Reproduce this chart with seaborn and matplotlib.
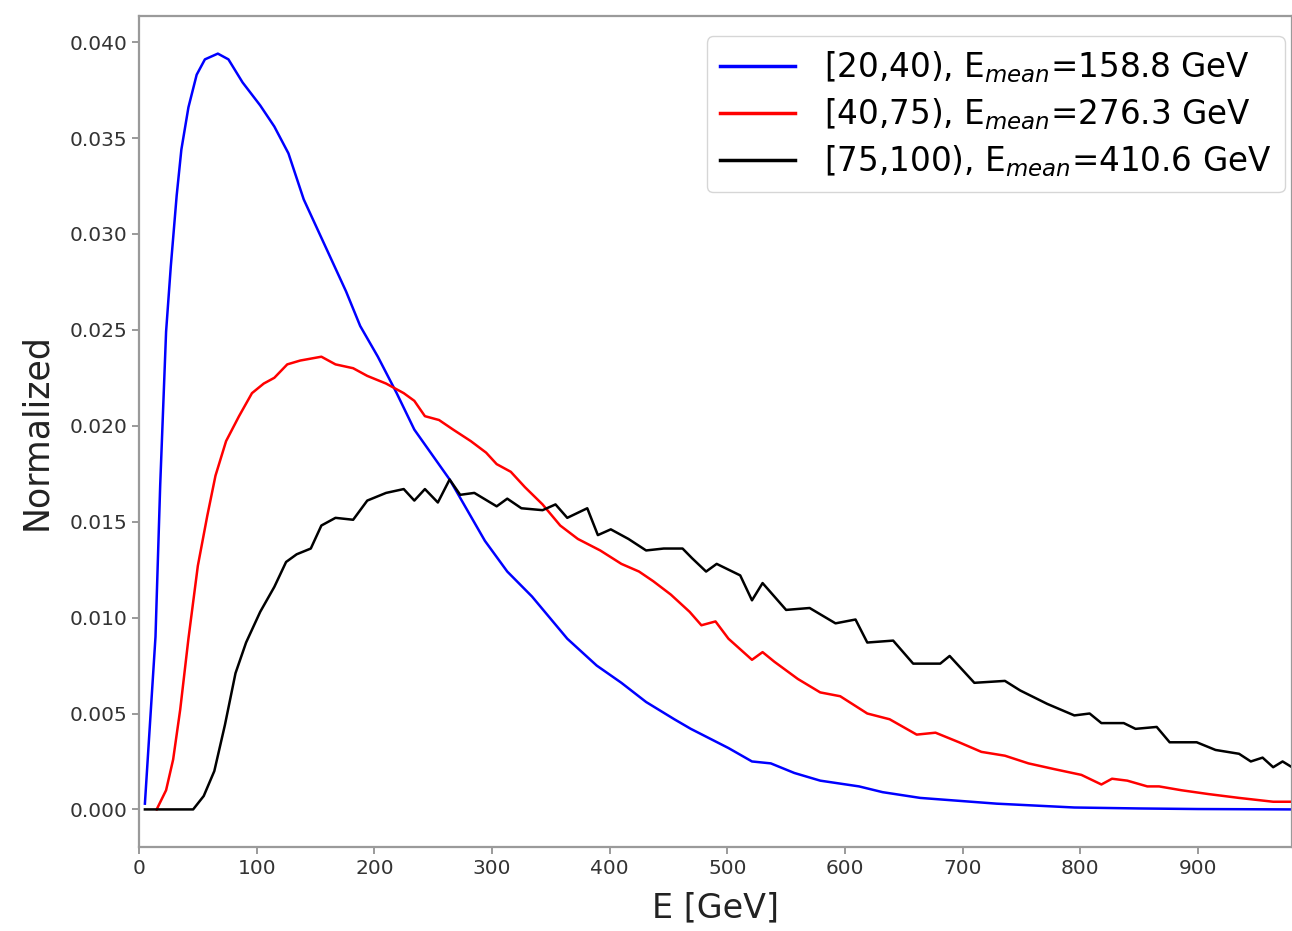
import numpy as np
import pandas as pd
import matplotlib
matplotlib.use("Agg")
import matplotlib.pyplot as plt
import seaborn as sns

# energy bins [GeV] and normalized distributions
e_blue = [5, 14, 18, 23, 27, 32, 36, 42, 49, 56, 67, 76, 88, 103, 115, 127, 140,
          152, 164, 176, 188, 203, 219, 234, 249, 264, 279, 294, 313, 334, 349,
          364, 389, 410, 431, 455, 469, 501, 521, 537, 557, 579, 612, 632, 664,
          729, 795, 850, 900, 980]
v_blue = [0.0003, 0.0090, 0.0169, 0.0249, 0.0283, 0.0320, 0.0344, 0.0366, 0.0383,
          0.0391, 0.0394, 0.0391, 0.0379, 0.0367, 0.0356, 0.0342, 0.0318, 0.0302,
          0.0286, 0.0270, 0.0252, 0.0236, 0.0217, 0.0198, 0.0185, 0.0172, 0.0156,
          0.0140, 0.0124, 0.0111, 0.0100, 0.0089, 0.0075, 0.0066, 0.0056, 0.0047,
          0.0042, 0.0032, 0.0025, 0.0024, 0.0019, 0.0015, 0.0012, 0.0009, 0.0006,
          0.0003, 0.0001, 0.00005, 0.00002, 0.0]

e_red = [15, 23, 29, 35, 42, 50, 58, 65, 74, 85, 96, 106, 115, 126, 137, 155,
         167, 182, 194, 210, 225, 234, 243, 255, 267, 282, 295, 304, 316, 328,
         343, 358, 373, 392, 410, 425, 437, 452, 468, 478, 490, 501, 521, 530,
         540, 560, 579, 596, 619, 638, 661, 677, 697, 716, 736, 756, 778, 801,
         818, 827, 840, 857, 867, 886, 909, 935, 964, 980]
v_red = [0.0, 0.0010, 0.0026, 0.0052, 0.0089, 0.0127, 0.0153, 0.0174, 0.0192,
         0.0205, 0.0217, 0.0222, 0.0225, 0.0232, 0.0234, 0.0236, 0.0232, 0.0230,
         0.0226, 0.0222, 0.0217, 0.0213, 0.0205, 0.0203, 0.0198, 0.0192, 0.0186,
         0.0180, 0.0176, 0.0168, 0.0159, 0.0148, 0.0141, 0.0135, 0.0128, 0.0124,
         0.0119, 0.0112, 0.0103, 0.0096, 0.0098, 0.0089, 0.0078, 0.0082, 0.0077,
         0.0068, 0.0061, 0.0059, 0.0050, 0.0047, 0.0039, 0.0040, 0.0035, 0.0030,
         0.0028, 0.0024, 0.0021, 0.0018, 0.0013, 0.0016, 0.0015, 0.0012, 0.0012,
         0.0010, 0.0008, 0.0006, 0.0004, 0.0004]

e_black = [5, 46, 55, 64, 73, 82, 91, 103, 115, 125, 134, 146, 155, 167, 182,
           194, 210, 225, 234, 243, 254, 264, 273, 285, 304, 313, 325, 343, 354,
           364, 381, 390, 401, 416, 431, 446, 462, 470, 482, 491, 511, 521, 530,
           550, 570, 592, 609, 619, 641, 658, 681, 689, 710, 736, 749, 772, 795,
           808, 818, 837, 847, 865, 876, 899, 915, 935, 945, 955, 964, 972, 980]
v_black = [0.0, 0.0, 0.0007, 0.0020, 0.0044, 0.0071, 0.0087, 0.0103, 0.0116,
           0.0129, 0.0133, 0.0136, 0.0148, 0.0152, 0.0151, 0.0161, 0.0165, 0.0167,
           0.0161, 0.0167, 0.0160, 0.0172, 0.0164, 0.0165, 0.0158, 0.0162, 0.0157,
           0.0156, 0.0159, 0.0152, 0.0157, 0.0143, 0.0146, 0.0141, 0.0135, 0.0136,
           0.0136, 0.0131, 0.0124, 0.0128, 0.0122, 0.0109, 0.0118, 0.0104, 0.0105,
           0.0097, 0.0099, 0.0087, 0.0088, 0.0076, 0.0076, 0.0080, 0.0066, 0.0067,
           0.0062, 0.0055, 0.0049, 0.0050, 0.0045, 0.0045, 0.0042, 0.0043, 0.0035,
           0.0035, 0.0031, 0.0029, 0.0025, 0.0027, 0.0022, 0.0025, 0.0022]

labels = [r"[20,40), E$_{mean}$=158.8 GeV",
          r"[40,75), E$_{mean}$=276.3 GeV",
          r"[75,100), E$_{mean}$=410.6 GeV"]
colors = ["blue", "red", "black"]

fig, ax = plt.subplots(figsize=(12.92, 9.31), dpi=100)
fig.subplots_adjust(left=0.1076, right=1.0, top=0.983, bottom=0.090)

for e, v, lab, c in zip([e_blue, e_red, e_black], [v_blue, v_red, v_black], labels, colors):
    sns.lineplot(x=e, y=v, color=c, label=lab, linewidth=1.8, ax=ax)

ax.set_xlim(0, 980)
ax.set_xticks(np.arange(0, 1000, 100))
ax.set_yticks(np.arange(0, 0.0401, 0.005))
ax.yaxis.set_major_formatter(matplotlib.ticker.FormatStrFormatter("%.3f"))

for sp in ax.spines.values():
    sp.set_color("#9a9a9a")
    sp.set_linewidth(1.6)
ax.tick_params(colors="#9a9a9a", labelcolor="#333333", labelsize=14.5, width=1.4, length=5)

ax.set_xlabel("E [GeV]", fontsize=24, color="#222222", labelpad=10)
ax.set_ylabel("Normalized", fontsize=25, color="#222222", labelpad=12)

leg = ax.legend(loc="upper right", fontsize=23.5, handlelength=2.3, borderpad=0.4,
                labelspacing=0.35, handletextpad=0.9, borderaxespad=0,
                bbox_to_anchor=(1285 / 1292, 1 - 36 / 931),
                bbox_transform=fig.transFigure)
for line in leg.get_lines():
    line.set_linewidth(2.5)

fig.savefig("out.png", dpi=100)
